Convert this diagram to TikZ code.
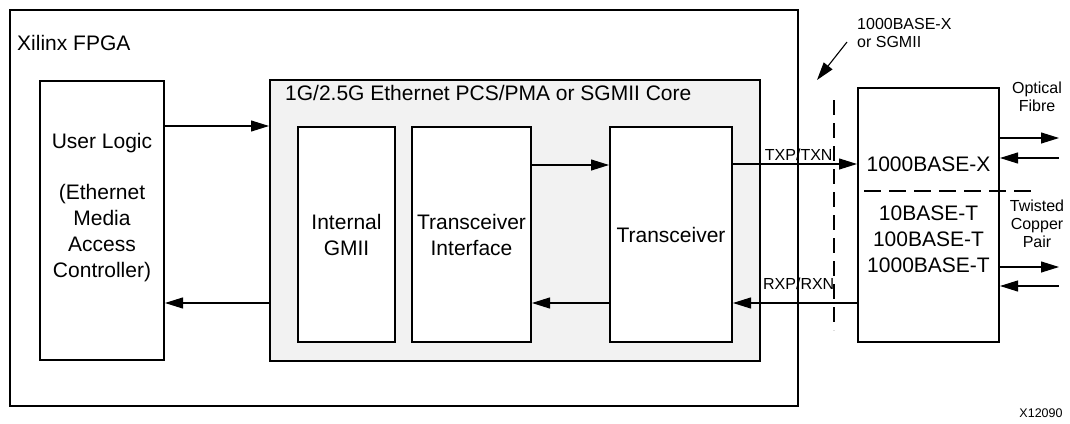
\documentclass[tikz,border=0pt]{standalone}
\usepackage{fontspec}
\setmainfont{Liberation Sans}
\usetikzlibrary{arrows.meta, positioning}

\begin{document}
\begin{tikzpicture}[
  x=1pt, y=-1pt,
  font=\fontsize{21}{26}\selectfont,
  >={Triangle[length=18pt, width=11pt]},
  node distance=15pt,
  frame/.style={
    draw=black,
    line width=2pt,
    inner sep=0pt
  },
  box/.style={
    draw=black,
    line width=2pt,
    fill=white,
    align=center,
    inner sep=0pt,
    minimum height=215pt
  },
  arrow/.style={->, line width=1.1pt, draw=black},
  note/.style={font=\fontsize{16}{18}\selectfont, align=center, inner sep=0pt},
  divider/.style={line width=1.1pt, dash pattern=on 15pt off 8pt}
]

\useasboundingbox (0,0) rectangle (1070,423);

% FPGA frame and user logic
\node[frame, minimum width=788pt, minimum height=396pt] (fpga) at (404,208) {};
\node[anchor=west, inner sep=0pt] (fpgalbl) at (17,43) {Xilinx FPGA};
\node[frame, minimum width=124pt, minimum height=279pt] (user) at (102,220.5) {};
\node[align=center, inner sep=0pt] (usertxt) at (102,207.5) {User Logic\\[25pt](Ethernet\\Media\\Access\\Controller)};

% core with its three blocks in a row
\node[frame, fill=black!5, minimum width=490pt, minimum height=281pt] (core) at (515,220.5) {};
\node[anchor=west, inner sep=0pt] (corelbl) at (285,93) {1G/2.5G Ethernet PCS/PMA or SGMII Core};
\node[box, minimum width=97pt] (gmii) at (346.5,234.5) {Internal\\GMII};
\node[box, minimum width=119pt, right=15pt of gmii] (txif) {Transceiver\\Interface};
\node[box, minimum width=122pt, right=77pt of txif] (xcvr) {Transceiver};

% external PHY
\node[frame, minimum width=141pt, minimum height=254pt] (phy) at (928.5,215) {};
\node[inner sep=0pt] (phyx) at (928.5,164) {1000BASE-X};
\node[align=center, inner sep=0pt] (phyt) at (928.5,239) {10BASE-T\\100BASE-T\\1000BASE-T};
\draw[line width=1.1pt, dash pattern=on 17pt off 8pt] ([xshift=7pt]phy.west |- 0,191) -- ([xshift=36pt]phy.east |- 0,191);

% interface boundary
\coordinate (cuttop) at (834,100);
\coordinate (cutbot) at (834,330);
\draw[divider] (cuttop) -- (cutbot);
\node[note, align=left, anchor=north west] (cutlbl) at (857,18) {1000BASE-X\\or SGMII};
\draw[arrow] ([shift={(-10,24)}]cutlbl.north west) -- ([shift={(-17,-20)}]cuttop);

% data paths
\draw[arrow] (user.east |- 0,126) -- (core.west |- 0,126);
\draw[arrow] (core.west |- 0,303) -- (user.east |- 0,303);
\draw[arrow] (txif.east |- 0,165) -- (xcvr.west |- 0,165);
\draw[arrow] (xcvr.west |- 0,303) -- (txif.east |- 0,303);
\draw[arrow] (xcvr.east |- 0,164) -- node[note, above=3pt, pos=0.53]{TXP/TXN} (phy.west |- 0,164);
\draw[arrow] (phy.west |- 0,303) -- node[note, above=13pt, pos=0.47]{RXP/RXN} (xcvr.east |- 0,303);

% media side
\draw[arrow] (phy.east |- 0,138) -- ++(59,0);
\draw[arrow, <-] (phy.east |- 0,158) -- ++(59,0);
\draw[arrow] (phy.east |- 0,267) -- ++(59,0);
\draw[arrow, <-] (phy.east |- 0,286) -- ++(59,0);
\node[note] (fibre) at (1037,97) {Optical\\Fibre};
\node[note] (copper) at (1037,224) {Twisted\\Copper\\Pair};

\node[font=\fontsize{12.5}{14}\selectfont, inner sep=0pt] (figid) at (1041,413) {X12090};

\end{tikzpicture}
\end{document}
